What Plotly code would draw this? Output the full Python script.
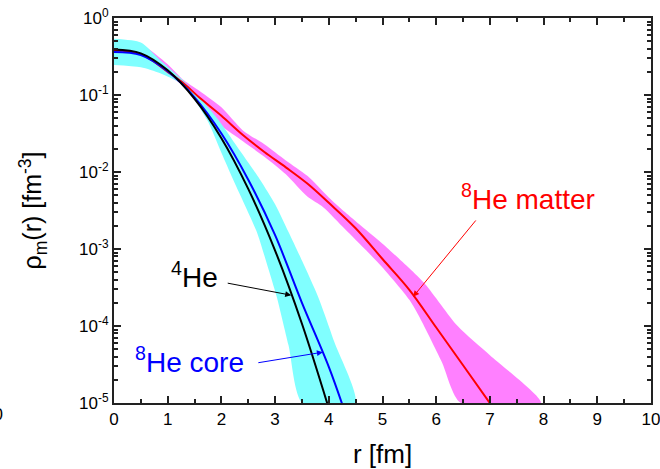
import plotly.graph_objects as go

# Radial density distributions rho_m(r) in fm^-3

# 4He density
r_he4 = [0, 0.5, 1.0, 1.5, 2.0, 2.5, 3.0, 3.5, 4.0]
rho_he4 = [0.389, 0.347, 0.209, 0.0891, 0.0275, 6.03e-3, 9.55e-4, 1.07e-4, 8.5e-6]

# 8He core density
r_core = [0, 0.5, 1.0, 1.5, 2.0, 2.5, 3.0, 3.5, 4.0, 4.3]
rho_core = [0.363, 0.331, 0.204, 0.0933, 0.0316, 7.94e-3, 1.51e-3, 2.0e-4, 2.95e-5, 7.6e-6]

# 8He matter density
r_matter = [0, 0.5, 1.0, 1.3, 1.6, 2.0, 2.4, 2.8, 3.2, 3.6, 4.0, 4.5, 5.0, 5.5, 6.0, 6.5, 7.1]
rho_matter = [0.380, 0.339, 0.200, 0.141, 0.0912, 0.0537, 0.0302, 0.0182, 0.0115, 7.08e-3,
              3.98e-3, 1.86e-3, 7.41e-4, 2.95e-4, 9.55e-5, 3.09e-5, 7.94e-6]

# uncertainty band of the alpha-like (core) densities
r_core_band_hi = [0, 0.5, 0.86, 1.3, 1.6, 1.94, 2.3, 2.72, 3.0, 3.25, 3.5, 3.8, 4.1, 4.49]
rho_core_band_hi = [0.537, 0.479, 0.282, 0.151, 0.0912, 0.0479, 0.0209, 7.94e-3, 3.80e-3,
                    1.66e-3, 7.08e-4, 2.40e-4, 6.31e-5, 1.0e-5]
r_core_band_lo = [0, 0.5, 0.86, 1.3, 1.73, 2.0, 2.22, 2.45, 2.66, 2.85, 3.03, 3.25, 3.51]
rho_core_band_lo = [0.245, 0.229, 0.191, 0.132, 0.0479, 0.0178, 7.94e-3, 3.55e-3, 1.66e-3,
                    6.31e-4, 2.40e-4, 5.62e-5, 1.0e-5]

# uncertainty band of the 8He matter density
r_matter_band_hi = [0, 0.5, 1.0, 1.3, 1.6, 2.0, 2.4, 2.8, 3.2, 3.6, 4.0, 4.3, 4.6, 5.0, 5.5,
                    5.8, 6.4, 7.0, 7.95]
rho_matter_band_hi = [0.513, 0.457, 0.251, 0.155, 0.112, 0.0692, 0.0347, 0.0229, 0.0141, 8.91e-3,
                      4.68e-3, 3.02e-3, 2.0e-3, 1.17e-3, 5.62e-4, 3.47e-4, 1.0e-4, 4.17e-5, 1.0e-5]
r_matter_band_lo = [0, 0.5, 1.0, 1.3, 1.6, 2.0, 2.4, 2.8, 3.2, 3.6, 3.9, 4.3, 4.7, 5.0, 5.5,
                    5.7, 6.1, 6.46]
rho_matter_band_lo = [0.316, 0.275, 0.178, 0.132, 0.0759, 0.0398, 0.0251, 0.0158, 9.33e-3,
                      4.79e-3, 3.47e-3, 1.82e-3, 9.55e-4, 5.75e-4, 2.19e-4, 1.26e-4, 3.47e-5, 1.0e-5]

# axis ticks
x_ticks = list(range(0, 11))
y_tick_vals = [1e-5, 1e-4, 1e-3, 1e-2, 1e-1, 1e0]
y_tick_text = ["10<sup>-5</sup>", "10<sup>-4</sup>", "10<sup>-3</sup>",
               "10<sup>-2</sup>", "10<sup>-1</sup>", "10<sup>0</sup>"]
y_minor_vals = [m * 10.0 ** e for e in range(-5, 0) for m in range(2, 10)]

FONT = "Arial, Liberation Sans, sans-serif"

fig = go.Figure()


def band(r_hi, rho_hi, r_lo, rho_lo, color):
    xs = list(r_hi) + list(reversed(r_lo))
    ys = list(rho_hi) + list(reversed(rho_lo))
    return go.Scatter(x=xs, y=ys, mode="lines", fill="toself", fillcolor=color,
                      line=dict(width=0, color=color, shape="spline", smoothing=0.7),
                      hoverinfo="skip", showlegend=False)


fig.add_trace(band(r_matter_band_hi, rho_matter_band_hi, r_matter_band_lo, rho_matter_band_lo,
                   "#FF80FF"))
fig.add_trace(band(r_core_band_hi, rho_core_band_hi, r_core_band_lo, rho_core_band_lo,
                   "#80FFFF"))

fig.add_trace(go.Scatter(x=r_matter, y=rho_matter, mode="lines",
                         line=dict(color="#FF0000", width=2, shape="spline"), showlegend=False))
fig.add_trace(go.Scatter(x=r_core, y=rho_core, mode="lines",
                         line=dict(color="#0000FF", width=2, shape="spline"), showlegend=False))
fig.add_trace(go.Scatter(x=r_he4, y=rho_he4, mode="lines",
                         line=dict(color="#000000", width=2, shape="spline"), showlegend=False))

# labels with pointer arrows (y in log10 units on a log axis)
labels = [
    dict(text="<sup>4</sup>He", color="#000000", tx=1.49, ty=-3.34,
         tail=(2.09, -3.44), tip=(3.30, -3.60)),
    dict(text="<sup>8</sup>He core", color="#0000FF", tx=1.40, ty=-4.44,
         tail=(2.66, -4.48), tip=(3.89, -4.34)),
    dict(text="<sup>8</sup>He matter", color="#FF0000", tx=7.71, ty=-2.32,
         tail=(6.76, -2.61), tip=(5.57, -3.62)),
]
annotations = []
for lb in labels:
    annotations.append(dict(x=lb["tx"], y=lb["ty"], xref="x", yref="y", text=lb["text"],
                            showarrow=False, font=dict(family=FONT, size=28, color=lb["color"])))
    annotations.append(dict(x=lb["tip"][0], y=lb["tip"][1], xref="x", yref="y",
                            ax=lb["tail"][0], ay=lb["tail"][1], axref="x", ayref="y",
                            text="", showarrow=True, arrowhead=2, arrowsize=1.2,
                            arrowwidth=1, arrowcolor=lb["color"]))

# edge of the neighbouring panel's x tick label
annotations.append(dict(x=-0.203, y=-0.03, xref="paper", yref="paper", text="10",
                        xanchor="right", yanchor="middle", showarrow=False,
                        font=dict(family=FONT, size=17, color="#000000")))

axis_common = dict(showgrid=False, zeroline=False, showline=True, linecolor="#222222",
                   linewidth=2, mirror="ticks", ticks="inside", ticklen=7, tickwidth=1.5,
                   tickcolor="#222222", automargin=False, ticklabeloverflow="allow",
                   tickfont=dict(family=FONT, size=17, color="#000000"))

fig.update_layout(
    width=660, height=469,
    margin=dict(l=114, r=9, t=18, b=66),
    paper_bgcolor="white", plot_bgcolor="white",
    showlegend=False,
    annotations=annotations,
    xaxis=dict(range=[0, 10], tickmode="array", tickvals=x_ticks,
               title=dict(text="r [fm]", font=dict(family=FONT, size=26, color="#000000"),
                          standoff=16),
               minor=dict(ticks="inside", ticklen=4, tickwidth=1.5, tickcolor="#222222",
                          dtick=0.5, tick0=0, showgrid=False),
               **axis_common),
    yaxis=dict(type="log", range=[-5, 0], tickmode="array", tickvals=y_tick_vals,
               ticktext=y_tick_text,
               title=dict(text="ρ<sub>m</sub>(r) [fm<sup>-3</sup>]",
                          font=dict(family=FONT, size=25, color="#000000"), standoff=30),
               minor=dict(ticks="inside", ticklen=4, tickwidth=1.5, tickcolor="#222222",
                          tickmode="array", tickvals=y_minor_vals, showgrid=False),
               **axis_common),
)

fig.write_html("out.html")
